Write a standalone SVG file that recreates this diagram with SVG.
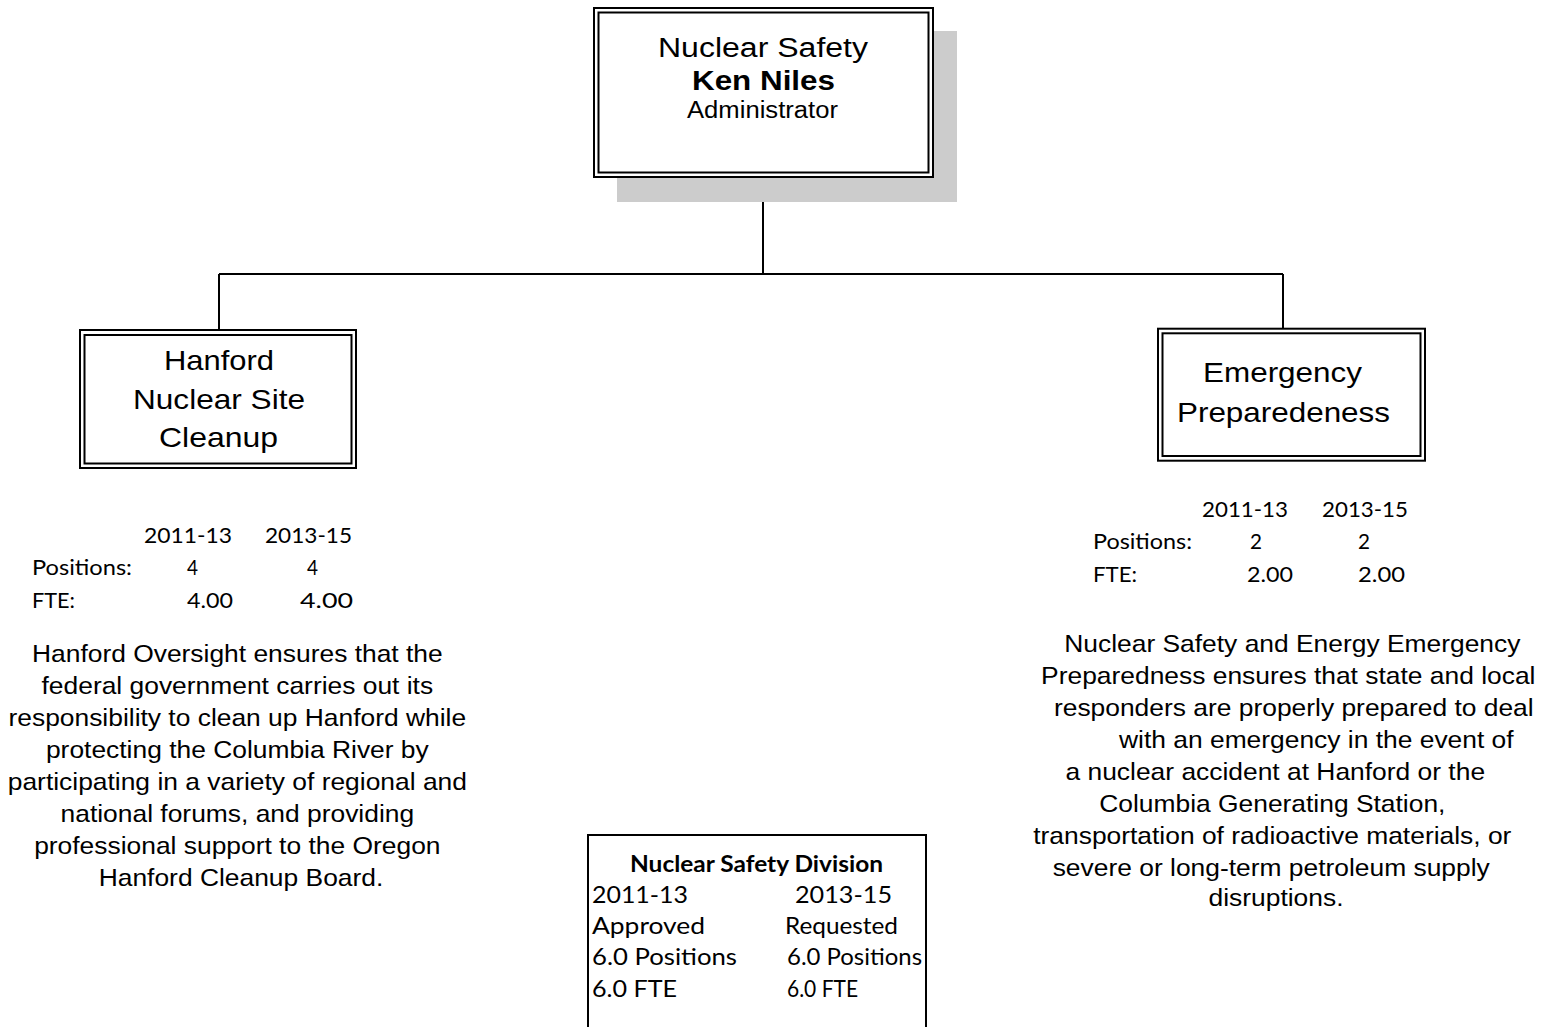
<svg xmlns="http://www.w3.org/2000/svg" width="1548" height="1027" viewBox="0 0 1548 1027">
<style>
.box{fill:#fff;stroke:#000;stroke-width:2}
.ln{fill:none;stroke:#000;stroke-width:2}
.ar{font-family:"Liberation Sans",Arial,sans-serif;fill:#000}
.cal{font-family:Lato,"Open Sans",sans-serif;fill:#000}
</style>
<rect width="1548" height="1027" fill="#fff"/>
<g id="connectors">
<path class="ln" d="M763 177 V274 M219 274 H1283 M219 274 V330 M1283 274 V329"/>
</g>
<g id="node-admin">
<rect x="617" y="31" width="340" height="171" fill="#cccccc"/>
<rect class="box" x="594" y="8" width="339" height="169"/>
<rect class="box" x="598.5" y="12.5" width="330" height="160"/>
<text class="ar" x="658" y="57" font-size="27" textLength="210" lengthAdjust="spacingAndGlyphs">Nuclear Safety</text>
<text class="ar" x="692" y="90" font-size="27" font-weight="bold" textLength="143" lengthAdjust="spacingAndGlyphs">Ken Niles</text>
<text class="ar" x="687" y="118" font-size="23" textLength="151" lengthAdjust="spacingAndGlyphs">Administrator</text>
</g>
<g id="node-hanford">
<rect class="box" x="80" y="330" width="276" height="138"/>
<rect class="box" x="84.5" y="335" width="267" height="128.5"/>
<text class="ar" x="164" y="370" font-size="28" textLength="110" lengthAdjust="spacingAndGlyphs">Hanford</text>
<text class="ar" x="133" y="409" font-size="28" textLength="172" lengthAdjust="spacingAndGlyphs">Nuclear Site</text>
<text class="ar" x="159" y="447" font-size="28" textLength="119" lengthAdjust="spacingAndGlyphs">Cleanup</text>
</g>
<g id="hanford-stats" class="cal" font-size="21">
<text x="144" y="543" textLength="88" lengthAdjust="spacingAndGlyphs">2011-13</text>
<text x="265" y="543" textLength="87" lengthAdjust="spacingAndGlyphs">2013-15</text>
<text x="32" y="575" textLength="100" lengthAdjust="spacingAndGlyphs">Positions:</text>
<text x="187" y="575" textLength="11" lengthAdjust="spacingAndGlyphs">4</text>
<text x="307" y="575" textLength="11" lengthAdjust="spacingAndGlyphs">4</text>
<text x="32" y="608" textLength="43" lengthAdjust="spacingAndGlyphs">FTE:</text>
<text x="187" y="608" textLength="46" lengthAdjust="spacingAndGlyphs">4.00</text>
<text x="300" y="608" textLength="53" lengthAdjust="spacingAndGlyphs">4.00</text>
</g>
<g id="hanford-desc">
<text class="ar" font-size="24" text-anchor="middle" transform="scale(1.1 1)">
<tspan x="219.1" y="662">Hanford Oversight ensures that the</tspan>
<tspan x="219.1" y="694">federal government carries out its</tspan>
<tspan x="219.1" y="726">responsibility to clean up Hanford while</tspan>
<tspan x="219.1" y="758">protecting the Columbia River by</tspan>
<tspan x="219.1" y="790">participating in a variety of regional and</tspan>
<tspan x="219.1" y="822">national forums, and providing</tspan>
<tspan x="219.1" y="854">professional support to the Oregon</tspan>
<tspan x="219.1" y="886">Hanford Cleanup Board.</tspan>
</text>
</g>
<g id="node-emergency">
<rect class="box" x="1158" y="328.7" width="267" height="132"/>
<rect class="box" x="1162.5" y="333.3" width="258" height="122.7"/>
<text class="ar" x="1203" y="382" font-size="28" textLength="159" lengthAdjust="spacingAndGlyphs">Emergency</text>
<text class="ar" x="1177" y="422" font-size="28" textLength="213" lengthAdjust="spacingAndGlyphs">Preparedeness</text>
</g>
<g id="emergency-stats" class="cal" font-size="21">
<text x="1202" y="517" textLength="86" lengthAdjust="spacingAndGlyphs">2011-13</text>
<text x="1322" y="517" textLength="86" lengthAdjust="spacingAndGlyphs">2013-15</text>
<text x="1093" y="549" textLength="99" lengthAdjust="spacingAndGlyphs">Positions:</text>
<text x="1250" y="549" textLength="12" lengthAdjust="spacingAndGlyphs">2</text>
<text x="1358" y="549" textLength="12" lengthAdjust="spacingAndGlyphs">2</text>
<text x="1093" y="582" textLength="44" lengthAdjust="spacingAndGlyphs">FTE:</text>
<text x="1247" y="582" textLength="46" lengthAdjust="spacingAndGlyphs">2.00</text>
<text x="1358" y="582" textLength="47" lengthAdjust="spacingAndGlyphs">2.00</text>
</g>
<g id="emergency-desc">
<text class="ar" font-size="24" text-anchor="middle" transform="scale(1.1 1)">
<tspan x="1178.2" y="652">Nuclear Safety and Energy Emergency</tspan>
<tspan x="1174.5" y="684">Preparedness ensures that state and local</tspan>
<tspan x="1179.5" y="716">responders are properly prepared to deal</tspan>
<tspan x="1200" y="748">with an emergency in the event of</tspan>
<tspan x="1162.7" y="780">a nuclear accident at Hanford or the</tspan>
<tspan x="1160" y="812">Columbia Generating Station,</tspan>
<tspan x="1160" y="844">transportation of radioactive materials, or</tspan>
<tspan x="1159" y="876">severe or long-term petroleum supply</tspan>
<tspan x="1160" y="906">disruptions.</tspan>
</text>
</g>
<g id="node-division">
<rect class="box" x="588" y="835" width="338" height="220"/>
<g class="cal" font-size="23">
<text x="630" y="872" font-weight="bold" font-size="23" textLength="253" lengthAdjust="spacingAndGlyphs">Nuclear Safety Division</text>
<text x="592" y="903" textLength="96" lengthAdjust="spacingAndGlyphs">2011-13</text>
<text x="795" y="903" textLength="97" lengthAdjust="spacingAndGlyphs">2013-15</text>
<text x="592" y="934" textLength="113" lengthAdjust="spacingAndGlyphs">Approved</text>
<text x="785" y="934" textLength="113" lengthAdjust="spacingAndGlyphs">Requested</text>
<text x="592" y="965" textLength="145" lengthAdjust="spacingAndGlyphs">6.0 Positions</text>
<text x="787" y="965" textLength="135" lengthAdjust="spacingAndGlyphs">6.0 Positions</text>
<text x="592" y="997" textLength="85" lengthAdjust="spacingAndGlyphs">6.0 FTE</text>
<text x="787" y="997" textLength="71" lengthAdjust="spacingAndGlyphs">6.0 FTE</text>
</g>
</g>
</svg>
